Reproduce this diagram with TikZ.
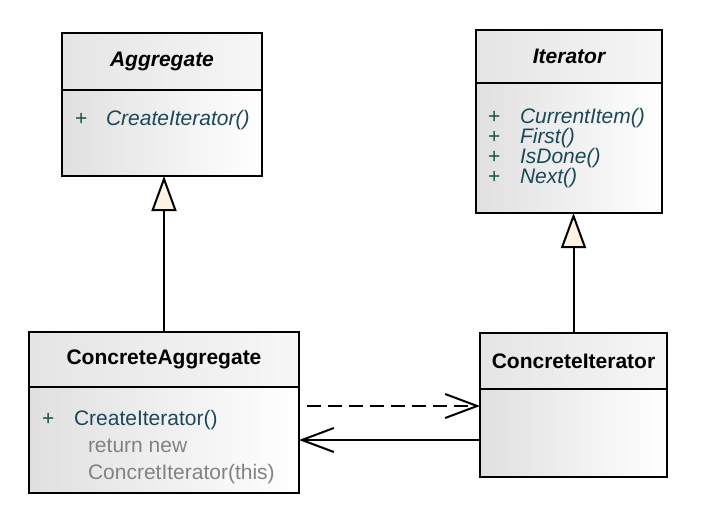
\documentclass[tikz,border=0pt]{standalone}
\usepackage{fontspec}
\setmainfont{Liberation Sans}
\usetikzlibrary{positioning}
\usetikzlibrary{arrows.meta}

\definecolor{membercol}{RGB}{28,72,88}
\definecolor{pluscol}{RGB}{24,84,56}
\definecolor{codecol}{RGB}{130,130,130}
\definecolor{headcol}{RGB}{240,240,240}
\definecolor{bodycol}{RGB}{224,224,224}
\definecolor{tipcol}{RGB}{253,242,228}

\begin{document}
\begin{tikzpicture}[x=1pt,y=-1pt, >=Straight Barb,
        every node/.style={inner sep=0pt, outer sep=0pt, font=\fontsize{21}{25}\selectfont}]
    \tikzstyle{head box}=[draw, line width=1.7pt, left color=headcol!90!gray, right color=headcol!60!white]
    \tikzstyle{body box}=[draw, line width=1.7pt, left color=bodycol, middle color=white, right color=white]
    \tikzstyle{member}=[anchor=base west, text=membercol]
    \tikzstyle{plus sign}=[anchor=base west, text=pluscol]
    \tikzstyle{code line}=[anchor=base west, text=codecol]
    \tikzstyle{inherit}=[line width=2pt, -{Triangle[open, fill=tipcol, length=35pt, width=25pt]}]
    \tikzstyle{assoc}=[line width=2pt, ->, >={Straight Barb[length=32pt, width=24pt, line width=2pt]}]

    \useasboundingbox (0,0) rectangle (714,512);

    % Aggregate (abstract)
    \node[head box, minimum width=200pt, minimum height=57pt, anchor=north west] (aggH) at (62,33)
        {\bfseries\itshape Aggregate};
    \node[body box, minimum width=200pt, minimum height=86pt, anchor=north] (aggB) at (aggH.south) {};
    \node[plus sign] at (75,125) {+};
    \node[member] at (106,125) {\itshape CreateIterator()};

    % Iterator (abstract)
    \node[head box, minimum width=186pt, minimum height=53pt, anchor=north west] (itH) at (476,30)
        {\bfseries\itshape Iterator};
    \node[body box, minimum width=186pt, minimum height=130pt, anchor=north] (itB) at (itH.south) {};
    \foreach \y/\m in {123/CurrentItem(), 143/First(), 163/IsDone(), 183/Next()} {
        \node[plus sign] at (488,\y) {+};
        \node[member] at (520,\y) {\itshape \m};
    }

    % ConcreteAggregate
    \node[head box, minimum width=270pt, minimum height=55pt, anchor=north west] (caH) at (29,332)
        {\bfseries ConcreteAggregate};
    \node[body box, minimum width=270pt, minimum height=106pt, anchor=north] (caB) at (caH.south) {};
    \draw[line width=1.7pt] (caB.south west) rectangle (caB.north east); % outline again
    \node[plus sign] at (42,425) {+};
    \node[member] at (74,425) {CreateIterator()};
    \node[code line] at (88,452) {return new};
    \node[code line] at (88,479) {ConcretIterator(this)};

    % ConcreteIterator
    \node[head box, minimum width=187pt, minimum height=56pt, anchor=north west] (ciH) at (480,333)
        {\bfseries ConcreteIterator};
    \node[body box, minimum width=187pt, minimum height=88pt, anchor=north] (ciB) at (ciH.south) {};

    % generalizations
    \draw[inherit] (caH.north) -- (caH.north |- aggB.south);
    \draw[inherit] (ciH.north) -- (ciH.north |- itB.south);

    % dependency and association
    \draw[assoc, dashed, dash pattern=on 14pt off 7pt] ([xshift=8pt,yshift=34pt]caB.east) -- ([yshift=34pt]caB.east -| ciB.west);
    \draw[assoc] (caB.east -| ciB.west) -- (caB.east);
\end{tikzpicture}
\end{document}
